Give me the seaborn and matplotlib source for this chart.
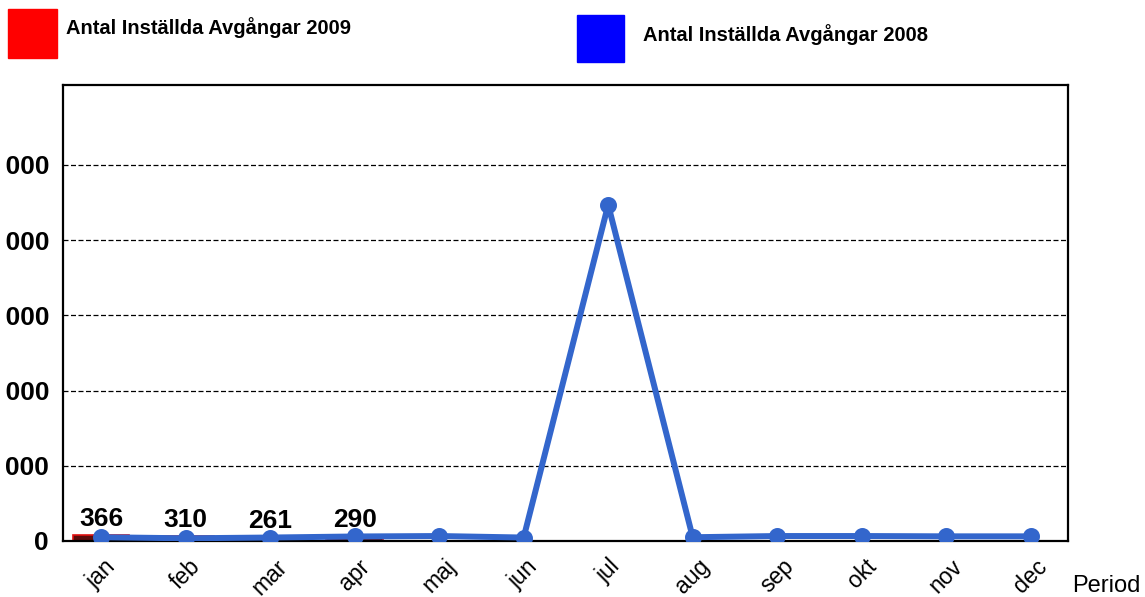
import matplotlib
matplotlib.use("Agg")
import matplotlib.pyplot as plt
import matplotlib.patches as mpatches
import seaborn as sns
import pandas as pd

months = ["jan", "feb", "mar", "apr", "maj", "jun", "jul", "aug", "sep", "okt", "nov", "dec"]
months_2009 = ["jan", "feb", "mar", "apr"]
values_2009 = [366, 310, 261, 290]
values_2008 = [250, 180, 230, 300, 330, 230, 22340, 250, 330, 330, 310, 310]
yticks = [0, 5000, 10000, 15000, 20000, 25000]
ytick_labels = ["0", "5 000", "10 000", "15 000", "20 000", "25 000"]
label_2009 = "Antal Inställda Avgångar 2009"
label_2008 = "Antal Inställda Avgångar 2008"

sns.set_theme(style="white")
plt.rcParams["font.family"] = ["Liberation Sans", "DejaVu Sans"]
plt.rcParams["text.color"] = "black"
plt.rcParams["xtick.color"] = "black"
plt.rcParams["ytick.color"] = "black"

fig = plt.figure(figsize=(11.45, 5.97), dpi=100)
ax = fig.add_axes([63 / 1145, 56 / 597, 1005 / 1145, 456 / 597])

df09 = pd.DataFrame({"month": months_2009, "value": values_2009})
df08 = pd.DataFrame({"month": months, "value": values_2008})

sns.barplot(data=df09, x="month", y="value", order=months, ax=ax,
            color="#5a0d0d", edgecolor="#e01010", linewidth=1.2, width=0.67,
            saturation=1, zorder=2)
for c in ax.containers:
    ax.bar_label(c, labels=[str(v) for v in values_2009], padding=3,
                 fontsize=19, fontweight="bold", color="black")

sns.pointplot(data=df08, x="month", y="value", order=months, ax=ax,
              color="#3366cc", markers="o", markersize=9, linewidth=4.3,
              errorbar=None, zorder=3)

ax.set_xlim(-0.45, 11.44)
ax.set_ylim(0, 30300)
ax.set_yticks(yticks)
ax.set_yticklabels(ytick_labels, fontsize=19, fontweight="bold", color="black")
ax.tick_params(axis="y", length=0, pad=10)
ax.tick_params(axis="x", length=0, pad=10)
for lbl in ax.get_xticklabels():
    lbl.set_rotation(45)
    lbl.set_ha("center")
    lbl.set_fontsize(16.5)
    lbl.set_color("black")
ax.set_xlabel("")
ax.set_ylabel("")
for y in yticks[1:]:
    ax.axhline(y, color="black", linestyle=(0, (4, 2)), linewidth=0.9, zorder=1)
for s in ax.spines.values():
    s.set_color("black")
    s.set_linewidth(1.6)
    s.set_visible(True)

fig.text(1072 / 1145, 11 / 597, "Period", fontsize=17, va="center", ha="left", color="black")

fig.patches.append(mpatches.Rectangle((8 / 1145, 539 / 597), 49 / 1145, 49 / 597,
                                      transform=fig.transFigure, color="red"))
fig.patches.append(mpatches.Rectangle((577 / 1145, 535 / 597), 47 / 1145, 47 / 597,
                                      transform=fig.transFigure, color="blue"))
fig.text(66 / 1145, 569 / 597, label_2009, fontsize=14.5, fontweight="bold",
         va="center", color="black")
fig.text(643 / 1145, 562 / 597, label_2008, fontsize=14.5, fontweight="bold",
         va="center", color="black")

fig.savefig("out.png", dpi=100)
